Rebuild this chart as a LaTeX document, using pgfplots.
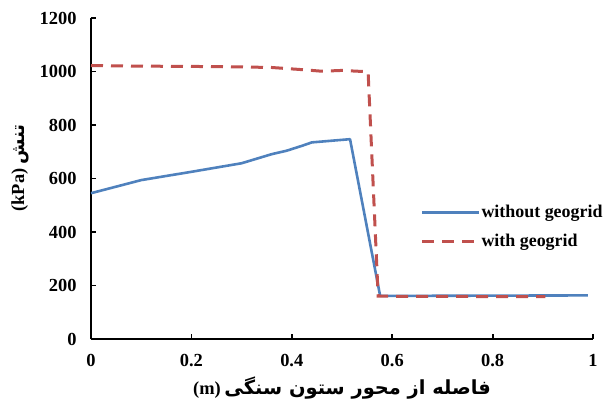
\documentclass[border=0pt]{standalone}
\usepackage{fontspec}
\setmainfont{Liberation Serif}
\newfontfamily\arabicfont[Script=Arabic]{DejaVu Sans}
\TeXXeTstate=1
\usepackage{pgfplots}
\pgfplotsset{compat=1.18}
\definecolor{exblue}{RGB}{79,129,189}
\definecolor{exred}{RGB}{192,80,77}
\newcommand{\chartfont}{\fontsize{18.5}{20}\selectfont\bfseries}
\newcommand{\legfont}{\fontsize{18}{20}\selectfont\bfseries}
\begin{document}
\begin{tikzpicture}
\begin{axis}[
  scale only axis,
  width=502bp, height=321bp,
  xmin=0, xmax=1, ymin=0, ymax=1200,
  axis lines=left,
  axis line style={line width=2.5bp, -},
  xtick={0,0.2,0.4,0.6,0.8,1},
  ytick={0,200,400,600,800,1000,1200},
  tick style={line width=1.8bp, black},
  tick align=inside,
  major tick length=5bp,
  tick label style={font=\chartfont},
  /pgf/number format/assume math mode=true,
  /pgf/number format/1000 sep={},
  xticklabel style={yshift=-12bp},
  yticklabel style={xshift=-11bp},
  xlabel={{\chartfont (m)}\hspace{0.35em}{\arabicfont\fontsize{19.5}{21}\selectfont\bfseries\beginR فاصله از محور ستون سنگی\endR}},
  ylabel={{\chartfont (kPa)}\hspace{0.35em}{\arabicfont\chartfont\beginR تنش\endR}},
  xlabel style={at={(axis description cs:0.5,-0.154)}, anchor=center},
  ylabel style={at={(axis description cs:-0.1414,0.533)}, anchor=center},
  legend style={draw=none, fill=none, at={(axis cs:0.656,419)}, anchor=west,
    inner sep=0pt, font=\legfont, row sep=13bp,
    nodes={inner sep=1bp, anchor=west}},
  legend cell align=left,
  legend image code/.code={\draw[#1] (0bp,0bp) -- (57bp,0bp);},
]
\addplot[exblue, line width=2.6bp, line join=round] coordinates {
  (0,545) (0.1,594) (0.2,625) (0.3,657) (0.36,691) (0.39,704)
  (0.42,722) (0.44,735) (0.516,747) (0.576,161) (0.99,163)
};
\addlegendentry{without geogrid}
\addplot[exred, line width=3bp, dash pattern=on 12bp off 8bp] coordinates {
  (0,1022) (0.1,1020) (0.2,1019) (0.3,1017) (0.36,1015) (0.42,1007)
  (0.46,1001) (0.5,1004) (0.552,999) (0.572,160) (0.905,158)
};
\addlegendentry{with geogrid}
\end{axis}
\pgfresetboundingbox
\path (current axis.south west) ++(-91bp,-67bp) rectangle ++(606bp,406bp);
\end{tikzpicture}
\end{document}
